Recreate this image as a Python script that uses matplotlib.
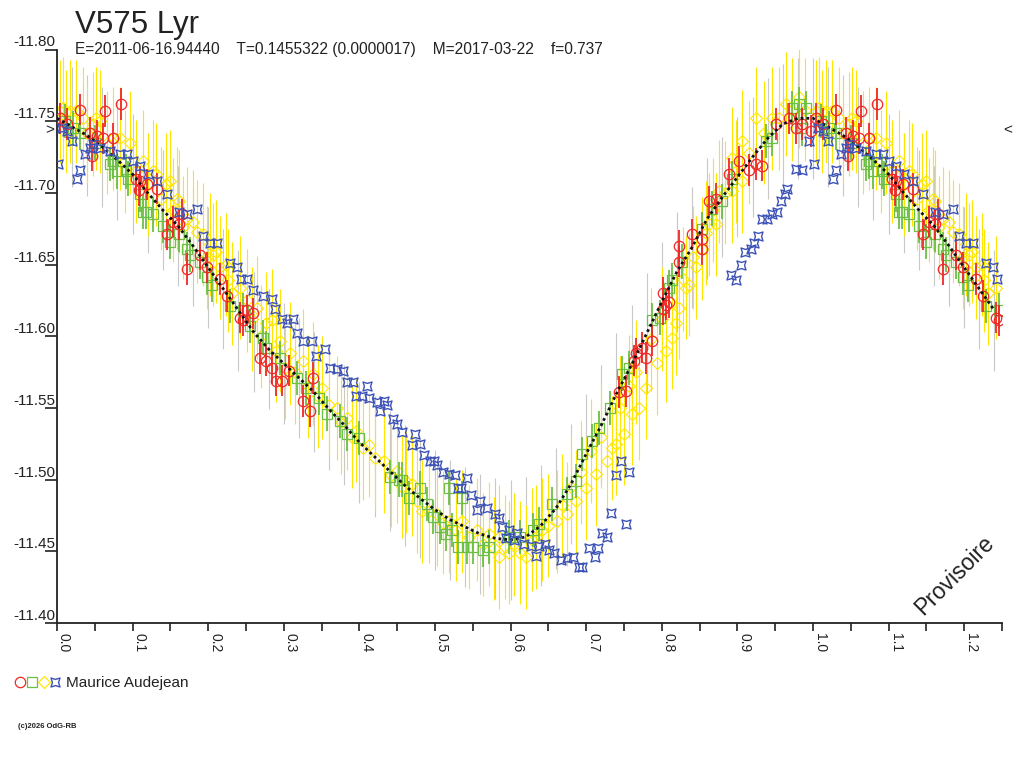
import numpy as np
import matplotlib
matplotlib.use('Agg')
import matplotlib.pyplot as plt
from matplotlib.path import Path
from matplotlib.lines import Line2D
from matplotlib.legend_handler import HandlerTuple
from matplotlib.ticker import FormatStrFormatter

plt.rcParams['font.family'] = ['Liberation Sans', 'DejaVu Sans']

# textes
star_title = 'V575 Lyr'
info_line = 'E=2011-06-16.94440    T=0.1455322 (0.0000017)    M=2017-03-22    f=0.737'
observer = 'Maurice Audejean'
stamp = '(c)2026 OdG-RB'
mean_mag = -11.744

# courbe moyenne (points noirs)
curve_phase = [0.00, 0.02, 0.04, 0.06, 0.08, 0.10, 0.12, 0.14, 0.16, 0.18,
               0.20, 0.22, 0.24, 0.26, 0.28, 0.30, 0.32, 0.34, 0.36, 0.38,
               0.40, 0.42, 0.44, 0.46, 0.48, 0.50, 0.52, 0.54, 0.56, 0.58,
               0.60, 0.62, 0.64, 0.66, 0.68, 0.70, 0.72, 0.74, 0.76, 0.78,
               0.80, 0.82, 0.84, 0.86, 0.88, 0.90, 0.92, 0.94, 0.96, 0.98]
curve_mag = [-11.752, -11.746, -11.740, -11.732, -11.723, -11.713, -11.700, -11.688, -11.677, -11.663,
             -11.648, -11.633, -11.618, -11.603, -11.591, -11.581, -11.571, -11.561, -11.549, -11.538,
             -11.526, -11.516, -11.506, -11.496, -11.487, -11.479, -11.472, -11.467, -11.462, -11.459,
             -11.458, -11.460, -11.468, -11.480, -11.497, -11.518, -11.538, -11.560, -11.580, -11.602,
             -11.624, -11.645, -11.662, -11.682, -11.697, -11.711, -11.725, -11.738, -11.748, -11.752]
curve_err = 0.042

# série rouge (cercles)
red_phase = [0.004, 0.013, 0.030, 0.044, 0.046, 0.053, 0.061, 0.063, 0.074, 0.085,
             0.104, 0.108, 0.110, 0.119, 0.132, 0.145, 0.153, 0.162, 0.165, 0.172,
             0.189, 0.198, 0.215, 0.225, 0.242, 0.246, 0.251, 0.259, 0.268, 0.277,
             0.285, 0.290, 0.298, 0.307, 0.325, 0.334, 0.338,
             0.744, 0.753, 0.763, 0.766, 0.774, 0.779, 0.787, 0.801, 0.801,
             0.806, 0.810, 0.823, 0.823, 0.840, 0.853, 0.853, 0.863, 0.872, 0.889,
             0.902, 0.915, 0.924, 0.933, 0.951, 0.968, 0.977, 0.985, 0.998]
red_mag = [-11.752, -11.748, -11.758, -11.742, -11.726, -11.740, -11.738, -11.757, -11.738, -11.762,
           -11.710, -11.702, -11.708, -11.706, -11.703, -11.671, -11.680, -11.678, -11.685, -11.647,
           -11.657, -11.648, -11.640, -11.628, -11.613, -11.611, -11.618, -11.616, -11.585, -11.583,
           -11.578, -11.569, -11.569, -11.576, -11.555, -11.548, -11.571,
           -11.561, -11.562, -11.583, -11.588, -11.592, -11.585, -11.597, -11.630, -11.619,
           -11.622, -11.624, -11.663, -11.652, -11.671, -11.668, -11.661, -11.694, -11.696, -11.713,
           -11.722, -11.716, -11.720, -11.719, -11.748, -11.752, -11.745, -11.748, -11.743]
red_err = 0.011

# série verte (carrés)
green_phase = [0.010, 0.021, 0.030, 0.050, 0.070, 0.074, 0.079, 0.091, 0.094, 0.110,
               0.114, 0.118, 0.127, 0.140, 0.149, 0.162, 0.172, 0.176, 0.189, 0.198,
               0.205, 0.229, 0.246, 0.255, 0.272, 0.277, 0.295, 0.317, 0.330, 0.347,
               0.357, 0.374, 0.383, 0.400, 0.440, 0.453, 0.457, 0.466, 0.480, 0.489,
               0.497, 0.506, 0.515, 0.519, 0.523, 0.530, 0.536, 0.542, 0.550, 0.563,
               0.572, 0.598, 0.612, 0.629, 0.638, 0.655, 0.674, 0.687, 0.695, 0.708,
               0.717, 0.731, 0.748, 0.757, 0.787, 0.797, 0.810, 0.814, 0.827, 0.853,
               0.867, 0.880, 0.893, 0.938, 0.946, 0.972, 0.981, 0.985, 0.991]
green_mag = [-11.750, -11.745, -11.742, -11.735, -11.720, -11.722, -11.715, -11.715, -11.710, -11.699,
             -11.687, -11.687, -11.685, -11.677, -11.666, -11.671, -11.661, -11.657, -11.652, -11.641,
             -11.636, -11.621, -11.618, -11.607, -11.599, -11.592, -11.585, -11.571, -11.564, -11.557,
             -11.546, -11.541, -11.532, -11.529, -11.502, -11.500, -11.500, -11.487, -11.494, -11.483,
             -11.474, -11.467, -11.462, -11.494, -11.465, -11.453, -11.487, -11.453, -11.453, -11.451,
             -11.453, -11.460, -11.460, -11.465, -11.469, -11.483, -11.490, -11.499, -11.518, -11.527,
             -11.536, -11.550, -11.574, -11.578, -11.611, -11.613, -11.634, -11.639, -11.652, -11.675,
             -11.689, -11.694, -11.710, -11.736, -11.738, -11.759, -11.762, -11.745, -11.759]
green_err = 0.012

# série jaune (losanges)
yellow_phase = [0.004, 0.008, 0.017, 0.025, 0.034, 0.048, 0.052, 0.057, 0.074, 0.083,
                0.096, 0.114, 0.127, 0.131, 0.144, 0.149, 0.159, 0.162, 0.172, 0.180,
                0.185, 0.193, 0.202, 0.206, 0.210, 0.215, 0.223, 0.226, 0.242, 0.251,
                0.264, 0.277, 0.285, 0.295, 0.308, 0.325, 0.338, 0.351, 0.370, 0.383,
                0.396, 0.413, 0.433, 0.450, 0.462, 0.470, 0.483, 0.502, 0.519, 0.536,
                0.555, 0.572, 0.585, 0.585, 0.598, 0.612, 0.621, 0.634, 0.642, 0.661,
                0.674, 0.687, 0.700, 0.713, 0.727, 0.734, 0.740, 0.750, 0.761, 0.770,
                0.779, 0.793, 0.806, 0.814, 0.819, 0.823, 0.832, 0.836, 0.845, 0.853,
                0.863, 0.872, 0.876, 0.893, 0.893, 0.906, 0.906, 0.925, 0.946, 0.964,
                0.981,
                0.012, 0.040, 0.066, 0.090, 0.105, 0.120, 0.137, 0.153, 0.167, 0.198,
                0.232, 0.258, 0.270, 0.290, 0.302, 0.315, 0.332, 0.345, 0.360, 0.376,
                0.390, 0.405, 0.420, 0.442, 0.456, 0.476, 0.492, 0.510, 0.528, 0.545,
                0.563, 0.578, 0.592, 0.605, 0.628, 0.650, 0.668, 0.680, 0.693, 0.706,
                0.720, 0.745, 0.756, 0.766, 0.786, 0.800, 0.828, 0.841, 0.858, 0.868,
                0.884, 0.898, 0.915, 0.935, 0.955, 0.972, 0.990]
yellow_mag = [-11.757, -11.759, -11.757, -11.757, -11.752, -11.748, -11.752, -11.750, -11.738, -11.738,
              -11.735, -11.722, -11.715, -11.713, -11.706, -11.708, -11.696, -11.694, -11.682, -11.680,
              -11.673, -11.671, -11.664, -11.657, -11.659, -11.648, -11.650, -11.639, -11.634, -11.625,
              -11.620, -11.609, -11.611, -11.597, -11.588, -11.583, -11.574, -11.564, -11.550, -11.543,
              -11.534, -11.524, -11.513, -11.506, -11.499, -11.497, -11.478, -11.476, -11.471, -11.471,
              -11.465, -11.462, -11.460, -11.446, -11.449, -11.449, -11.446, -11.460, -11.465, -11.471,
              -11.476, -11.485, -11.494, -11.504, -11.513, -11.522, -11.525, -11.532, -11.546, -11.550,
              -11.564, -11.581, -11.590, -11.599, -11.609, -11.620, -11.634, -11.636, -11.648, -11.661,
              -11.678, -11.678, -11.701, -11.701, -11.724, -11.708, -11.736, -11.752, -11.752, -11.762,
              -11.767,
              -11.750, -11.742, -11.735, -11.722, -11.715, -11.706, -11.696, -11.688, -11.676, -11.655,
              -11.630, -11.612, -11.600, -11.590, -11.578, -11.575, -11.565, -11.558, -11.552, -11.540,
              -11.530, -11.522, -11.515, -11.503, -11.495, -11.485, -11.478, -11.470, -11.465, -11.460,
              -11.455, -11.452, -11.453, -11.455, -11.458, -11.468, -11.482, -11.495, -11.505, -11.520,
              -11.530, -11.550, -11.565, -11.575, -11.598, -11.612, -11.640, -11.655, -11.672, -11.688,
              -11.700, -11.715, -11.728, -11.742, -11.752, -11.758, -11.758]
yellow_err = 0.036

# série bleue (étoiles)
blue_phase = [0.001, 0.007, 0.013, 0.020, 0.026, 0.030, 0.037, 0.044, 0.048, 0.057,
              0.070, 0.083, 0.092, 0.100, 0.110, 0.120, 0.132, 0.145, 0.162, 0.172,
              0.185, 0.193, 0.202, 0.211, 0.229, 0.238, 0.244, 0.251, 0.259, 0.272,
              0.284, 0.288, 0.297, 0.304, 0.312, 0.318, 0.325, 0.337, 0.343, 0.354,
              0.361, 0.371, 0.378, 0.384, 0.391, 0.396, 0.404, 0.410, 0.413, 0.423,
              0.427, 0.433, 0.437, 0.444, 0.450, 0.457, 0.469, 0.473, 0.480, 0.486,
              0.493, 0.499, 0.503, 0.510, 0.519, 0.526, 0.530, 0.535, 0.542, 0.548,
              0.555, 0.559, 0.569, 0.579, 0.585, 0.589, 0.594, 0.598, 0.605, 0.608,
              0.618, 0.627, 0.634, 0.638, 0.645, 0.651, 0.658, 0.667, 0.674, 0.682,
              0.691, 0.695, 0.704, 0.711, 0.715, 0.721, 0.728, 0.733, 0.740, 0.746,
              0.752, 0.757, 0.892, 0.898, 0.905, 0.910, 0.918, 0.922, 0.927, 0.933,
              0.939, 0.946, 0.952, 0.958, 0.963, 0.966, 0.978, 0.985, 0.995]
blue_mag = [-11.720, -11.745, -11.743, -11.736, -11.710, -11.716, -11.727, -11.731, -11.734, -11.731,
            -11.729, -11.727, -11.727, -11.722, -11.719, -11.713, -11.708, -11.699, -11.687, -11.685,
            -11.689, -11.670, -11.665, -11.665, -11.651, -11.648, -11.640, -11.640, -11.632, -11.628,
            -11.626, -11.619, -11.612, -11.609, -11.612, -11.602, -11.597, -11.597, -11.586, -11.591,
            -11.578, -11.577, -11.576, -11.568, -11.568, -11.558, -11.558, -11.565, -11.557, -11.554,
            -11.548, -11.555, -11.552, -11.542, -11.539, -11.533, -11.524, -11.532, -11.525, -11.517,
            -11.513, -11.513, -11.510, -11.505, -11.504, -11.503, -11.494, -11.494, -11.501, -11.489,
            -11.479, -11.485, -11.480, -11.476, -11.473, -11.467, -11.459, -11.465, -11.458, -11.463,
            -11.455, -11.454, -11.447, -11.454, -11.455, -11.451, -11.449, -11.444, -11.445, -11.446,
            -11.439, -11.439, -11.452, -11.446, -11.452, -11.463, -11.460, -11.477, -11.503, -11.513,
            -11.469, -11.505, -11.643, -11.639, -11.650, -11.659, -11.661, -11.665, -11.670, -11.682,
            -11.682, -11.685, -11.687, -11.694, -11.699, -11.703, -11.717, -11.716, -11.736]

RED = '#f02828'
GREEN = '#6cbf45'
YELLOW = '#ffe600'
BLUE = '#3c52b6'
GREY = '#c8c8c8'
INK = '#222222'


def wrap(phase, mag, lim=0.25):
    # les phases < 0.25 sont répétées après 1.0
    phase = np.asarray(phase)
    mag = np.asarray(mag)
    keep = phase < lim
    return np.concatenate([phase, phase[keep] + 1.0]), np.concatenate([mag, mag[keep]])


# marqueur carré à côtés creusés (bleu)
k = 0.68
star_marker = Path([(-1, -1), (0, -k), (1, -1), (k, 0), (1, 1), (0, k),
                    (-1, 1), (-k, 0), (-1, -1)],
                   [Path.MOVETO] + [Path.LINETO] * 7 + [Path.CLOSEPOLY])

fig = plt.figure(figsize=(10.24, 7.68), dpi=100)
ax = fig.add_axes([57 / 1024, 1 - 623 / 768, 945 / 1024, 573.5 / 768])

cx, cy = wrap(curve_phase, curve_mag)
ax.errorbar(cx, cy, yerr=curve_err, fmt='none', ecolor=GREY, elinewidth=0.8, zorder=1)

yx, yy = wrap(yellow_phase, yellow_mag)
ax.errorbar(yx, yy, yerr=yellow_err, fmt='D', ms=6.5, mfc='none', mec=YELLOW, mew=0.8,
            ecolor=YELLOW, elinewidth=0.8, capsize=0, zorder=2)

gx, gy = wrap(green_phase, green_mag)
ax.errorbar(gx, gy, yerr=green_err, fmt='s', ms=6.5, mfc='none', mec=GREEN, mew=0.9,
            ecolor=GREEN, elinewidth=1.3, capsize=0, zorder=3)

rx, ry = wrap(red_phase, red_mag)
ax.errorbar(rx, ry, yerr=red_err, fmt='o', ms=7.5, mfc='none', mec=RED, mew=0.9,
            ecolor=RED, elinewidth=1.3, capsize=0, zorder=4)

ax.plot(cx, cy, ls=(0, (1.0, 1.1)), lw=2.0, color='#111111', zorder=5)

bx, by = wrap(blue_phase, blue_mag)
ax.plot(bx, by, ls='none', marker=star_marker, ms=6.5, mfc='none', mec=BLUE, mew=1.0, zorder=6)

# axes
ax.set_xlim(0, 1.25)
ax.set_ylim(-11.40, -11.80)
ax.set_xticks([0.0, 0.1, 0.2, 0.3, 0.4, 0.5, 0.6, 0.7, 0.8, 0.9, 1.0, 1.1, 1.2])
ax.set_xticks([0.05, 0.15, 0.25, 0.35, 0.45, 0.55, 0.65, 0.75, 0.85, 0.95, 1.05, 1.15, 1.25], minor=True)
ax.set_yticks([-11.80, -11.75, -11.70, -11.65, -11.60, -11.55, -11.50, -11.45, -11.40])
ax.xaxis.set_major_formatter(FormatStrFormatter('%.1f'))
ax.yaxis.set_major_formatter(FormatStrFormatter('%.2f'))
for side in ['top', 'right']:
    ax.spines[side].set_visible(False)
for side in ['left', 'bottom']:
    ax.spines[side].set_color(INK)
    ax.spines[side].set_linewidth(1.3)
ax.tick_params(axis='x', which='both', direction='out', length=6, width=1.2, color=INK,
               labelsize=10, labelcolor=INK, pad=1.5)
ax.tick_params(axis='y', which='both', direction='out', length=8.6, width=1.2, color=INK,
               labelsize=11, labelcolor=INK, pad=-7.6)
plt.setp(ax.get_xticklabels(), rotation=-90, ha='left', va='bottom', rotation_mode='anchor')
plt.setp(ax.get_yticklabels(), va='bottom')

# repères de magnitude moyenne
ax.text(-0.0075, mean_mag, '>', transform=ax.get_yaxis_transform(), ha='center', va='center',
        fontsize=11, color=INK)
ax.text(1.006, mean_mag, '<', transform=ax.get_yaxis_transform(), ha='center', va='center',
        fontsize=11, color=INK)

# titres
fig.text(75 / 1024, 1 - 33 / 768, star_title, fontsize=22.5, color=INK, va='baseline')
fig.text(75 / 1024, 1 - 54 / 768, info_line, fontsize=11.2, color=INK, va='baseline')
fig.text(955 / 1024, 1 - 575 / 768, 'Provisoire', fontsize=16.5, rotation=45, color=INK,
         ha='center', va='center')

# légende
handles = (Line2D([], [], ls='none', marker='o', ms=7.5, mfc='none', mec=RED, mew=0.9),
           Line2D([], [], ls='none', marker='s', ms=6.5, mfc='none', mec=GREEN, mew=0.9),
           Line2D([], [], ls='none', marker='D', ms=6, mfc='none', mec=YELLOW, mew=0.9),
           Line2D([], [], ls='none', marker=star_marker, ms=6.5, mfc='none', mec=BLUE, mew=1.0))
fig.legend([handles], [observer], loc='center left', bbox_to_anchor=(14 / 1024, 1 - 683 / 768),
           frameon=False, fontsize=11, handlelength=3.1, handletextpad=0.3, borderpad=0,
           borderaxespad=0, labelcolor=INK,
           handler_map={tuple: HandlerTuple(ndivide=None, pad=0.0)})

fig.text(18 / 1024, 1 - 726 / 768, stamp, fontsize=5.5, fontweight='bold', color=INK, va='center')

fig.savefig('out.png', dpi=100)
